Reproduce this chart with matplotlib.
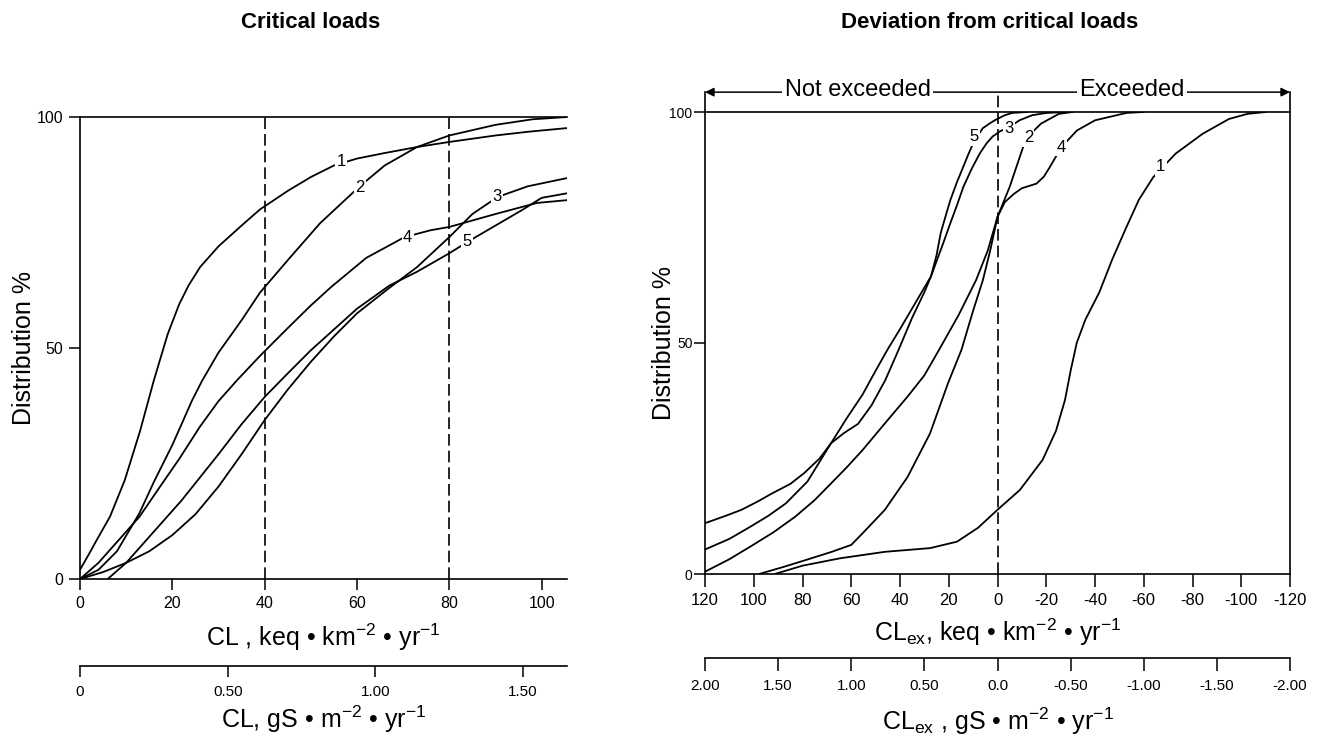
import matplotlib
matplotlib.use('Agg')
import matplotlib.pyplot as plt

plt.rcParams['font.family'] = ['Liberation Sans', 'DejaVu Sans']
plt.rcParams['mathtext.fontset'] = 'custom'
plt.rcParams['mathtext.rm'] = 'Liberation Sans'
plt.rcParams['mathtext.it'] = 'Liberation Sans:italic'
plt.rcParams['mathtext.bf'] = 'Liberation Sans:bold'

# ---------------- Left panel: critical loads (keq km-2 yr-1) ----------------
cl1_x = [0, 2, 3.6, 6.5, 9.7, 13, 16, 19, 21.5, 23.5, 26, 30, 35, 39, 45, 50, 55, 60, 66, 73, 80, 90, 97, 105.5]
cl1_y = [2, 5.5, 8.4, 13.5, 21.4, 32, 43, 53, 59.5, 63.5, 67.5, 72, 76.5, 80, 84, 87, 89.5, 91, 92.2, 93.5, 94.6, 96, 96.8, 97.6]
cl2_x = [0, 4, 8, 12.9, 16, 20, 24.3, 26.5, 30, 35, 39, 45, 52, 60.6, 66, 73, 80, 90, 98, 105.5]
cl2_y = [0, 2, 6, 14.3, 21, 29, 38.7, 43, 49, 56, 62, 69, 77, 85, 89.5, 93.5, 96, 98.3, 99.5, 100]
cl3_x = [0, 5, 10, 15, 20, 25, 30, 35, 40, 45, 50, 55, 60, 67, 73, 80, 85, 90.5, 97, 105.6]
cl3_y = [0, 1.5, 3.5, 6, 9.5, 14, 20, 27, 34.4, 41, 47, 52.5, 57.5, 63, 67.5, 74, 79, 82.7, 85, 86.8]
cl4_x = [0, 4, 8, 12.9, 17, 21.5, 26, 30, 34, 39, 45, 50, 54.4, 62, 70.3, 76, 80, 90, 99, 105.5]
cl4_y = [0, 3.5, 8, 13.5, 19.5, 26, 33, 38.5, 43, 48.3, 54.3, 59.2, 63.2, 69.5, 74, 75.5, 76.2, 79, 81.4, 82]
cl5_x = [6, 10, 14, 18, 22, 26, 30, 35, 40, 45, 50, 55, 60, 67, 73, 80, 84, 90, 96, 100, 105.6]
cl5_y = [0, 3.5, 8, 12.5, 17, 22, 27, 33.5, 39.4, 44.5, 49.5, 54, 58.5, 63.5, 66.5, 70.5, 73, 76.5, 80, 82.5, 83.5]
left_curves = [(cl1_x, cl1_y), (cl2_x, cl2_y), (cl3_x, cl3_y), (cl4_x, cl4_y), (cl5_x, cl5_y)]
left_labels = ['1', '2', '3', '4', '5']
left_label_x = [56.6, 60.6, 90.3, 71, 83.9]
left_label_y = [90.3, 84.8, 82.7, 74, 73]
left_xticks = [0, 20, 40, 60, 80, 100]
left_yticks = [0, 50, 100]
left_dashed = [40, 80]
left_gs_ticks = [0, 0.5, 1.0, 1.5]
left_gs_labels = ['0', '0.50', '1.00', '1.50']
left_keq_per_gs = 64.0

# ---------------- Right panel: deviation from critical loads ----------------
ex1_x = [91.4, 80, 64.6, 46.2, 27.7, 16.6, 8, 0, -9.2, -18.5, -24, -27.7, -30, -32.5, -36, -41.8, -47, -52.9, -58, -63.9, -73.1, -84.2, -95, -102.6, -110]
ex1_y = [0, 1.8, 3.4, 4.8, 5.6, 7, 10, 13.9, 18.2, 24.7, 31, 37.7, 44, 50, 55, 61, 68, 75.1, 81, 85.9, 91, 95.3, 98.5, 99.6, 100]
ex2_x = [97.8, 88, 79.4, 68, 60, 55, 46.2, 36.9, 27.7, 20.3, 14.8, 10, 6, 3, 0, -5, -10.5, -14, -17.9, -25.2, -30.8]
ex2_y = [0, 1.5, 2.9, 4.8, 6.3, 9, 13.9, 21, 30.4, 41.3, 48.5, 57, 63.6, 70, 77.3, 83.8, 92.4, 95.5, 97.5, 99.6, 100]
ex3_x = [120, 110, 101.5, 94, 86.8, 78, 68.3, 62, 55.4, 50, 45.2, 40, 35, 30, 27.3, 24.8, 22, 19.3, 16.5, 14, 10.5, 7.3, 4.5, 2, -1, -5, -9, -14.2, -20, -29]
ex3_y = [5.3, 7.6, 10.2, 12.6, 15.3, 20, 28.3, 33.6, 38.8, 44, 48.5, 53, 57.5, 62, 64.4, 68, 72, 76, 80, 83.8, 87.8, 91, 93.2, 94.7, 95.8, 96.8, 98.2, 99.3, 99.8, 100]
ex4_x = [120, 110, 101.5, 92, 83, 75, 68.3, 62, 55.4, 46.2, 36.9, 30, 24, 16, 8.8, 4, 0, -3, -6.8, -10, -13, -16, -19, -21.5, -26.2, -32.6, -40, -52.9, -60]
ex4_y = [0.5, 3.2, 5.9, 9, 12.4, 16, 19.6, 23, 26.8, 32.6, 38.4, 43, 48.5, 56, 63.6, 70, 77.3, 80.5, 82.3, 83.5, 84, 84.5, 86, 88.1, 92.4, 96, 98.2, 99.8, 100]
ex5_x = [120, 112, 105, 98, 92.3, 85, 79.4, 73, 68.3, 63, 57.2, 51.7, 46, 40.6, 35, 30, 27.3, 25, 23.3, 21, 19.3, 16.5, 14, 12, 10, 8, 6, 3, 0.8, -3, -6, -12]
ex5_y = [11, 12.5, 13.9, 15.8, 17.5, 19.5, 21.8, 25, 28.3, 30.5, 32.5, 36.5, 42, 48.5, 55.5, 61, 64.4, 69, 73.8, 78, 81, 85, 88.2, 90.8, 93.2, 95, 96.5, 97.6, 98.3, 99.3, 99.8, 100]
right_curves = [(ex1_x, ex1_y), (ex2_x, ex2_y), (ex3_x, ex3_y), (ex4_x, ex4_y), (ex5_x, ex5_y)]
right_labels = ['1', '2', '3', '4', '5']
right_label_x = [-67, -12.7, -4.6, -26.2, 9.8]
right_label_y = [88.1, 94.4, 96.4, 92.3, 94.6]
right_xticks = [120, 100, 80, 60, 40, 20, 0, -20, -40, -60, -80, -100, -120]
right_xticklabels = ['120', '100', '80', '60', '40', '20', '0', '-20', '-40', '-60', '-80', '-100', '-120']
right_yticks = [0, 50, 100]
right_gs_ticks = [2.0, 1.5, 1.0, 0.5, 0.0, -0.5, -1.0, -1.5, -2.0]
right_gs_labels = ['2.00', '1.50', '1.00', '0.50', '0.0', '-0.50', '-1.00', '-1.50', '-2.00']
right_keq_per_gs = 60.0
arrow_level = 104.3

UNITS_KEQ = r' keq • km$^{\mathregular{-2}}$ • yr$^{\mathregular{-1}}$'
UNITS_GS = r' gS • m$^{\mathregular{-2}}$ • yr$^{\mathregular{-1}}$'

W, H = 1322, 740
fig = plt.figure(figsize=(W / 100, H / 100), dpi=100)

def fx(px):
    return px / W

def fy(py):
    return 1 - py / H

LW = 1.3
dash = (0, (7, 3))
lbl_bbox = dict(boxstyle='square,pad=0.08', fc='white', ec='none')

# ---- left main axes ----
axL = fig.add_axes([fx(80), fy(579), (567 - 80) / W, 462 / H])
for x, y in left_curves:
    axL.plot(x, y, color='black', lw=LW)
for xd in left_dashed:
    axL.plot([xd, xd], [0, 100], color='black', lw=1.2, linestyle=dash)
for t, x, y in zip(left_labels, left_label_x, left_label_y):
    axL.text(x, y, t, ha='center', va='center', fontsize=12, bbox=lbl_bbox, zorder=5)
axL.set_xlim(0, 105.5)
axL.set_ylim(0, 100)
axL.spines['right'].set_visible(False)
for s in ['left', 'bottom', 'top']:
    axL.spines[s].set_linewidth(1.2)
axL.set_xticks(left_xticks)
axL.set_yticks(left_yticks)
axL.tick_params(direction='out', length=8, width=1.1, labelsize=11.5, pad=4)
axL.set_xlabel('CL ,' + UNITS_KEQ, fontsize=18, labelpad=8)
axL.set_ylabel('Distribution %', fontsize=18)
axL.yaxis.set_label_coords(-0.09, 0.5)

# ---- left secondary axis ----
axL2 = fig.add_axes([fx(80), fy(666), (567 - 80) / W, 0.0001])
axL2.set_xlim(0, 105.5 / left_keq_per_gs)
axL2.set_xticks(left_gs_ticks)
axL2.set_xticklabels(left_gs_labels)
axL2.set_yticks([])
for s in ['left', 'right', 'top']:
    axL2.spines[s].set_visible(False)
axL2.spines['bottom'].set_linewidth(1.2)
axL2.tick_params(axis='x', direction='out', length=8, width=1.1, labelsize=11, pad=6)
axL2.patch.set_visible(False)
axL2.set_xlabel('CL,' + UNITS_GS, fontsize=18, labelpad=3)

# ---- right main axes ----
axR = fig.add_axes([fx(705), fy(574), (1290 - 705) / W, 462 / H])
for x, y in right_curves:
    axR.plot(x, y, color='black', lw=LW)
for t, x, y in zip(right_labels, right_label_x, right_label_y):
    axR.text(x, y, t, ha='center', va='center', fontsize=12, bbox=lbl_bbox, zorder=5)
axR.plot([0, 0], [0, arrow_level], color='black', lw=1.2, linestyle=dash, clip_on=False)
axR.plot([120, 120], [100, arrow_level], color='black', lw=1.2, clip_on=False)
axR.plot([-120, -120], [100, arrow_level], color='black', lw=1.2, clip_on=False)
axR.annotate('', xy=(120, arrow_level), xytext=(-120, arrow_level),
             arrowprops=dict(arrowstyle='<|-|>', lw=1.1, color='black',
                             mutation_scale=13, shrinkA=0, shrinkB=0),
             annotation_clip=False)
axR.text(57.4, arrow_level - 0.9, 'Not exceeded', ha='center', va='baseline', fontsize=17,
         bbox=dict(boxstyle='square,pad=0.1', fc='white', ec='none'), clip_on=False, zorder=6)
axR.text(-55, arrow_level - 0.9, 'Exceeded', ha='center', va='baseline', fontsize=17,
         bbox=dict(boxstyle='square,pad=0.1', fc='white', ec='none'), clip_on=False, zorder=6)
axR.set_xlim(120, -120)
axR.set_ylim(0, 100)
for s in ['left', 'bottom', 'top', 'right']:
    axR.spines[s].set_linewidth(1.2)
axR.set_xticks(right_xticks)
axR.set_xticklabels(right_xticklabels)
axR.set_yticks(right_yticks)
axR.tick_params(axis='x', direction='out', length=9, width=1.1, labelsize=12, pad=5)
axR.tick_params(axis='y', direction='out', length=8, width=1.1, labelsize=10, pad=1)
axR.set_xlabel(r'CL$_{\mathregular{ex}}$,' + UNITS_KEQ, fontsize=18, labelpad=6)
axR.set_ylabel('Distribution %', fontsize=18)
axR.yaxis.set_label_coords(-0.05, 0.5)

# ---- right secondary axis ----
axR2 = fig.add_axes([fx(705), fy(658), (1290 - 705) / W, 0.0001])
axR2.set_xlim(120 / right_keq_per_gs, -120 / right_keq_per_gs)
axR2.set_xticks(right_gs_ticks)
axR2.set_xticklabels(right_gs_labels)
axR2.set_yticks([])
for s in ['left', 'right', 'top']:
    axR2.spines[s].set_visible(False)
axR2.spines['bottom'].set_linewidth(1.2)
axR2.tick_params(axis='x', direction='out', length=9, width=1.1, labelsize=11, pad=6)
axR2.patch.set_visible(False)
axR2.set_xlabel(r'CL$_{\mathregular{ex}}$ ,' + UNITS_GS, fontsize=18, labelpad=9)

# ---- titles ----
fig.text(fx(311), fy(23), 'Critical loads', ha='center', va='center', fontsize=16, fontweight='bold')
fig.text(fx(990), fy(22), 'Deviation from critical loads', ha='center', va='center', fontsize=16, fontweight='bold')

fig.savefig('out.png', dpi=100)
